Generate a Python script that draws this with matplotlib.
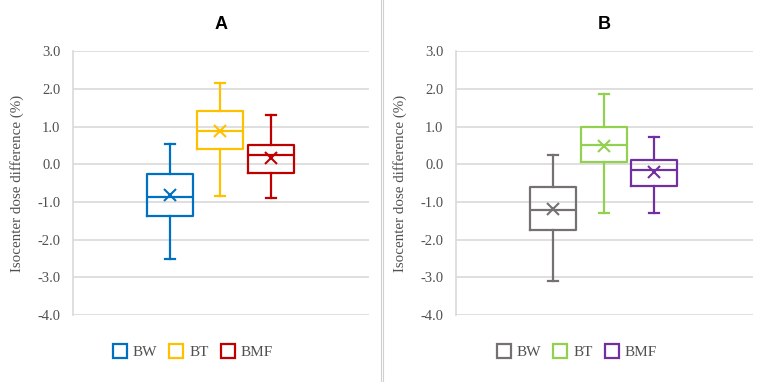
import matplotlib
matplotlib.use("Agg")
import matplotlib.pyplot as plt
from matplotlib.lines import Line2D

plt.rcParams['axes.unicode_minus'] = False

#------------------------------------
groups = ['BW', 'BT', 'BMF']

# panel A values
a_whislo = [-2.50, -0.84, -0.88]
a_q1 = [-1.36, 0.42, -0.24]
a_med = [-0.87, 0.89, 0.24]
a_q3 = [-0.25, 1.41, 0.52]
a_whishi = [0.53, 2.17, 1.31]
a_mean = [-0.81, 0.88, 0.17]
a_colors = ['#0070C0', '#FFC000', '#C00000']

# panel B values
b_whislo = [-3.10, -1.28, -1.30]
b_q1 = [-1.74, 0.06, -0.57]
b_med = [-1.22, 0.52, -0.16]
b_q3 = [-0.61, 1.00, 0.12]
b_whishi = [0.24, 1.86, 0.73]
b_mean = [-1.19, 0.49, -0.19]
b_colors = ['#767171', '#92D050', '#7030A0']

yticks = [3.0, 2.0, 1.0, 0.0, -1.0, -2.0, -3.0, -4.0]
#------------------------------------

serif = 'Liberation Serif'
fig = plt.figure(figsize=(7.65, 3.82), dpi=100)


def draw_panel(rect, title, whislo, q1, med, q3, whishi, mean, colors, legend_x):
    ax = fig.add_axes(rect)
    stats = []
    for i in range(len(groups)):
        stats.append(dict(label=groups[i], whislo=whislo[i], q1=q1[i], med=med[i],
                          q3=q3[i], whishi=whishi[i], mean=mean[i], fliers=[]))
    pos = [1, 2, 3]
    for i in range(len(groups)):
        c = colors[i]
        ax.bxp([stats[i]], positions=[pos[i]], widths=0.91, capwidths=0.2,
               showmeans=True, patch_artist=False,
               boxprops=dict(color=c, lw=1.6),
               medianprops=dict(color=c, lw=1.6),
               whiskerprops=dict(color=c, lw=1.6),
               capprops=dict(color=c, lw=1.6),
               meanprops=dict(marker='x', markeredgecolor=c, markersize=8.5,
                              markeredgewidth=1.5),
               zorder=3)
    ax.set_xlim(-0.92, 4.95)
    ax.set_ylim(-4.0, 3.0)
    ax.set_yticks(yticks)
    ax.set_yticklabels(['%.1f' % v for v in yticks], fontfamily=serif, fontsize=10.5,
                       color='#505050')
    ax.set_xticks([])
    ax.tick_params(axis='y', length=0, pad=9)
    ax.grid(axis='y', color='#d9d9d9', lw=1.2, zorder=0)
    ax.set_axisbelow(True)
    for s in ['top', 'right', 'bottom']:
        ax.spines[s].set_visible(False)
    ax.spines['left'].set_color('#d9d9d9')
    ax.spines['left'].set_linewidth(1.2)
    ax.set_ylabel('Isocenter dose difference (%)', fontfamily=serif, fontsize=10.8,
                  color='#505050')
    ax.yaxis.set_label_coords(-0.165, 0.5)
    ax.set_title(title, fontfamily='Liberation Sans', fontweight='bold', fontsize=13,
                 pad=16)
    handles = [Line2D([], [], ls='none', marker='s', markersize=10, markerfacecolor='none',
                      markeredgecolor=colors[i], markeredgewidth=1.6) for i in range(3)]
    fig.legend(handles, groups, loc='center', bbox_to_anchor=(legend_x, 0.078), ncol=3,
               frameon=False, prop=dict(family=serif, size=11), handlelength=0.9,
               handletextpad=0.4, columnspacing=0.8, labelcolor='#505050')
    return ax


draw_panel([73/765, 0.1754, 296/765, 0.6898], 'A',
           a_whislo, a_q1, a_med, a_q3, a_whishi, a_mean, a_colors, 193/765)
draw_panel([456/765, 0.1754, 297/765, 0.6898], 'B',
           b_whislo, b_q1, b_med, b_q3, b_whishi, b_mean, b_colors, 577/765)

# divider between the two panels
fig.add_artist(Line2D([380.5/765, 380.5/765], [0, 1], color='#d0d0d0', lw=0.8))
fig.add_artist(Line2D([383/765, 383/765], [0, 1], color='#d0d0d0', lw=0.8))

fig.savefig('out.png', dpi=100)
